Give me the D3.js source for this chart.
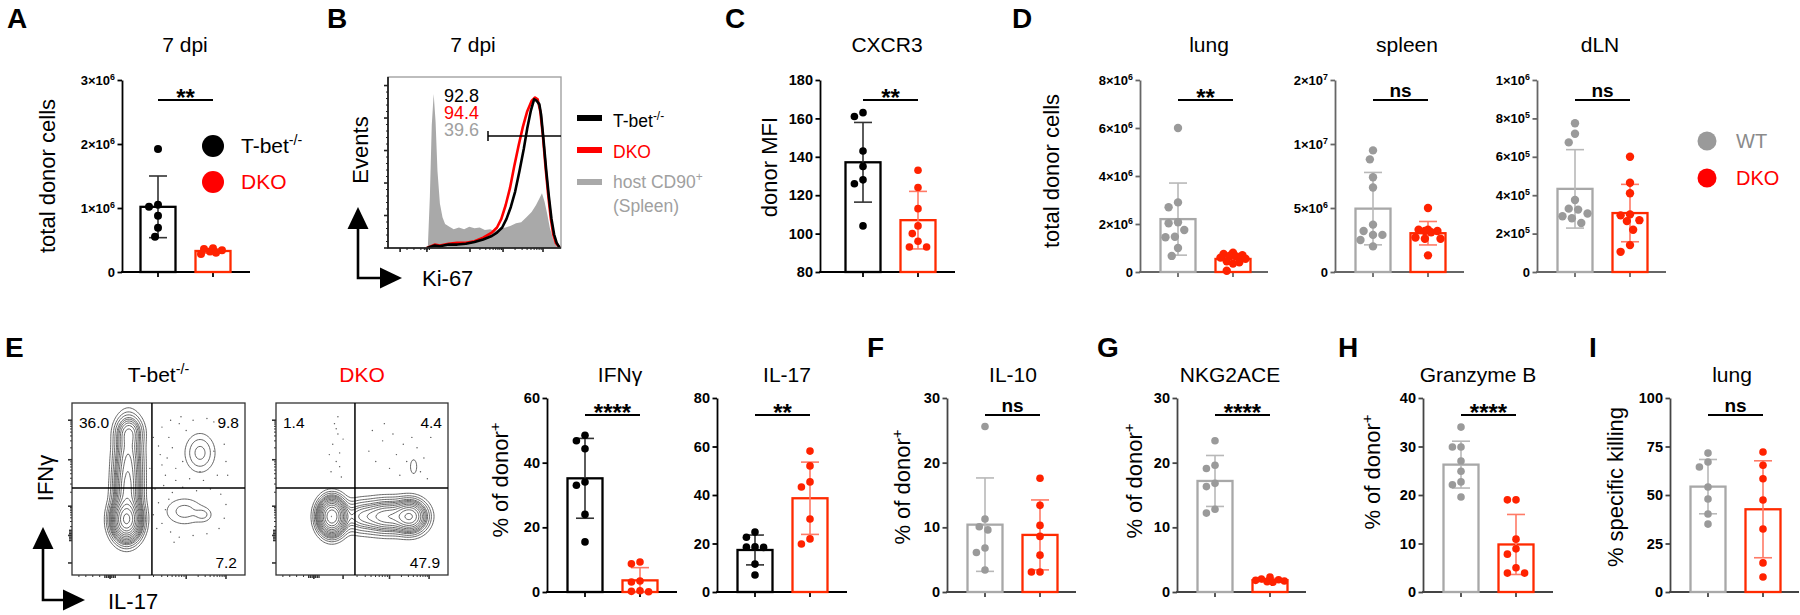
<!DOCTYPE html>
<html>
<head>
<meta charset="utf-8">
<script src="https://cdn.jsdelivr.net/npm/d3@7"></script>
<style>
body { margin: 0; background: #fff; }
svg { display: block; }
</style>
</head>
<body>
<svg id="fig" width="1800" height="615"></svg>
<script>
// ---------------- data ----------------
// A - total donor cells, 7 dpi
var aTbet = [1.92e6, 1.05e6, 1.02e6, 0.88e6, 0.69e6, 0.55e6];
var aDko = [0.37e6, 0.36e6, 0.34e6, 0.32e6, 0.30e6, 0.28e6];
var aTicks = [0, 1e6, 2e6, 3e6];
var aTickLabels = ["0", "1×10^6", "2×10^6", "3×10^6"];

// B - Ki-67 histograms, [channel %, events % of max]
var kiHost = [[23, 0], [24.2, 30], [25.3, 72], [26.4, 90], [27.5, 74], [28.6, 45], [30, 26], [31.5, 18], [33, 14], [35.5, 12.5], [38, 11], [41, 12], [44, 11], [47, 12.5], [50, 11.5], [53, 12], [56, 10.5], [59, 11], [62, 10], [65, 11.5], [68, 12], [71, 13], [74, 14.5], [77, 15], [80, 18], [83, 21], [85.5, 25], [87.5, 29], [89, 32], [90.5, 27], [92, 20], [93.5, 12], [95.5, 5], [97.5, 1], [98.5, 0]];
var kiTbet = [[22.5, 0], [27, 1.5], [30, 1], [35, 2], [40, 2], [45, 2.5], [50, 3.5], [55, 5], [60, 7], [63, 9], [66, 12], [68.5, 17], [71, 24], [73.5, 33], [76, 45], [78.5, 58], [80.5, 70], [82.5, 80], [84.5, 87], [86, 86], [87.5, 84], [88.5, 78], [90, 62], [91.5, 45], [93, 30], [94.5, 17], [96, 8], [97.5, 3], [99, 0.5], [100, 0]];
var kiDko = [[22.5, 0], [27, 2], [30, 1.5], [35, 2.5], [40, 3], [45, 3], [50, 4], [55, 6], [60, 9], [63, 12], [65.5, 17], [68, 25], [70.5, 35], [73, 48], [75.5, 60], [78, 71], [80.5, 80], [83, 86], [85, 88], [86.5, 87], [88, 80], [89.5, 66], [91, 48], [92.5, 32], [94, 18], [95.5, 8], [97, 3], [99, 0.5], [100, 0]];
var kiGates = ["92.8", "94.4", "39.6"];
var kiGateRange = [57.8, 100];
var kiGateLevel = 65.5;
var kiMajorY = [0, 19, 38, 57, 76, 95];
var kiMajorX = [7, 22.5, 47.4, 66.5, 89.6];

// C - CXCR3 donor MFI
var cTbet = [163, 161, 143, 135, 128, 126, 104];
var cDko = [133, 124, 113, 104, 100, 96, 93, 93];
var cTicks = [80, 100, 120, 140, 160, 180];

// D - total donor cells per organ
var lungWT = [6.0e6, 2.9e6, 2.7e6, 2.07e6, 2.03e6, 1.75e6, 1.47e6, 1.45e6, 1.0e6, 0.67e6];
var lungDKO = [0.8e6, 0.75e6, 0.7e6, 0.68e6, 0.65e6, 0.6e6, 0.55e6, 0.45e6, 0.4e6, 0.35e6, 0.05e6];
var lungTicks = [0, 2e6, 4e6, 6e6, 8e6];
var lungTickLabels = ["0", "2×10^6", "4×10^6", "6×10^6", "8×10^6"];
var spleenWT = [9.5e6, 8.8e6, 7.4e6, 6.6e6, 3.7e6, 3.2e6, 2.9e6, 2.9e6, 2.5e6, 2.0e6];
var spleenDKO = [5.0e6, 3.3e6, 3.3e6, 3.2e6, 3.2e6, 3.1e6, 2.7e6, 2.6e6, 2.6e6, 1.3e6];
var spleenTicks = [0, 5e6, 1e7, 1.5e7];
var spleenTickLabels = ["0", "5×10^6", "1×10^7", "2×10^7"];
var dlnWT = [7.75e5, 7.2e5, 6.75e5, 3.75e5, 3.3e5, 3.25e5, 3.05e5, 2.9e5, 2.8e5, 2.55e5];
var dlnDKO = [6.0e5, 4.65e5, 4.1e5, 3.0e5, 2.95e5, 2.7e5, 2.65e5, 2.2e5, 1.4e5, 1.05e5];
var dlnTicks = [0, 2e5, 4e5, 6e5, 8e5, 1e6];
var dlnTickLabels = ["0", "2×10^5", "4×10^5", "6×10^5", "8×10^5", "1×10^6"];

// E - flow plots: populations [IL-17, IFNg, sdX, sdY, weight]
var tbetPops = [[31.5, 32, 4.2, 6, 1.0], [32, 48, 4, 10, 0.35], [32.5, 68, 4, 11, 0.25], [33, 83, 4, 5, 0.15], [74, 71, 5, 6.5, 0.045], [65, 37, 7, 5, 0.028], [76, 35, 3, 2.5, 0.022]];
var dkoPops = [[32.5, 34, 4, 5.3, 1.0], [50, 34, 7, 5, 0.12], [65, 34, 7, 5, 0.25], [78, 34, 5, 4.8, 0.45], [80, 63, 2, 4.5, 0.015]];
var tbetEvents = [[52, 86], [56, 80], [58, 74], [55, 68], [60, 62], [54, 58], [62, 88], [66, 84], [70, 90], [78, 91], [86, 86], [88, 76], [89, 66], [84, 58], [76, 55], [68, 56], [60, 55], [52, 64], [57, 90], [64, 66], [50, 75], [53, 52], [58, 48], [56, 44], [54, 38], [52, 30], [57, 25], [62, 22], [70, 23], [78, 24], [85, 27], [88, 33], [89, 41], [86, 47], [80, 50], [72, 49], [64, 51], [48, 50], [50, 42], [49, 27], [74, 60], [82, 72], [47, 80], [45, 62], [51, 70], [63, 92], [82, 89], [90, 58], [47, 35], [59, 19]];
var dkoEvents = [[34, 88], [36, 82], [33, 76], [37, 71], [35, 66], [32, 60], [38, 57], [36, 92], [31, 70], [39, 79], [56, 84], [62, 78], [68, 82], [74, 76], [82, 74], [86, 68], [79, 80], [58, 66], [66, 62], [72, 58], [84, 60], [90, 80], [54, 72], [76, 66], [88, 56], [63, 88], [70, 70], [35, 85], [37, 63]];
var tbetGate = [46.2, 50.6];
var dkoGate = [45.9, 50.6];
var tbetQuad = ["36.0", "9.8", "7.2"];
var dkoQuad = ["1.4", "4.4", "47.9"];
var flowMajorY = [7, 23, 40, 67, 90];
var flowMajorX = [22, 39, 66, 89];

// E - cytokine bars
var ifngTbet = [48.5, 46.8, 44.3, 34, 33, 24, 15.5];
var ifngDko = [9.3, 8.7, 3.4, 3.1, 0.4, 0.2, 0.1];
var il17Tbet = [24.7, 22.6, 18.6, 18.5, 18.4, 11.5, 7.0];
var il17Dko = [58.1, 52, 45.4, 43.3, 30.1, 21.9, 19.8];
// F - IL-10
var il10WT = [25.6, 11.3, 10.1, 9.6, 6.8, 6.1, 3.4];
var il10DKO = [17.6, 13.4, 10.3, 8.6, 5.7, 3.1, 3.1];
// G - NKG2ACE
var nkgWT = [23.4, 19.6, 19.1, 16.8, 16.3, 12.8, 12.2];
var nkgDKO = [2.3, 2.0, 1.9, 1.8, 1.7, 1.6, 1.5];
// H - Granzyme B
var gzmbWT = [34, 29.9, 29.9, 27, 24.9, 22.7, 22.1, 19.6];
var gzmbDKO = [19, 19, 10.9, 8.9, 7.8, 5, 3.9, 3.9];
// I - lung specific killing
var killWT = [71.6, 67, 64.4, 54.1, 47.9, 40.2, 35];
var killDKO = [72.2, 65.3, 58.4, 47.4, 32.5, 15, 7.7];

// ---------------- helpers ----------------
var FONT = '"Liberation Sans", Arial, Helvetica, sans-serif';
var RED = "#ff2200", RED_T = "#ff0000";
var svg = d3.select("#fig").attr("font-family", FONT);

var BLACK_G = { dot: "#000", bar: "#000", err: "#333" };
var RED_G = { dot: RED, bar: "#ff2a00", err: "#ff7a66" };
var GRAY_G = { dot: "#9a9a9a", bar: "#a8a8a8", err: "#b8b8b8" };

function rich(t, str) {
  var parts = String(str).split("^");
  t.text(parts[0]);
  if (parts.length > 1) t.append("tspan").attr("dy", "-0.55em").attr("font-size", "68%").text(parts[1]);
  return t;
}

function text(x, y, str, size, opts) {
  opts = opts || {};
  var t = svg.append("text").attr("x", x).attr("y", y).attr("font-size", size)
    .attr("fill", opts.fill || "#000").attr("text-anchor", opts.anchor || "start")
    .attr("font-weight", opts.bold ? "bold" : "normal");
  return rich(t, str);
}

function vtext(x, y, str, size) {
  var t = svg.append("text").attr("transform", "translate(" + x + "," + y + ") rotate(-90)")
    .attr("font-size", size).attr("text-anchor", "middle");
  return rich(t, str);
}

function panelLetter(x, y, s) {
  svg.append("text").attr("x", x).attr("y", y).attr("font-size", 28).attr("font-weight", "bold").text(s);
}

function swarm(vals, y, r, maxOff) {
  var s = 2 * r + 1, placed = [], out = new Array(vals.length);
  var order = d3.range(vals.length).sort(function (a, b) { return vals[b] - vals[a]; });
  var cands = [0];
  for (var k = 1; k * s / 3 <= maxOff; k++) cands.push(-k * s / 3, k * s / 3);
  order.forEach(function (i) {
    var py = y(vals[i]), best = 0, bestD = -1;
    for (var c = 0; c < cands.length; c++) {
      var md = Infinity;
      placed.forEach(function (p) { var a = p[0] - cands[c], b = p[1] - py; md = Math.min(md, Math.sqrt(a * a + b * b)); });
      if (md >= s) { best = cands[c]; bestD = md; break; }
      if (md > bestD) { bestD = md; best = cands[c]; }
    }
    placed.push([best, py]);
    out[i] = [best, py];
  });
  return out;
}

function barPanel(p) {
  var g = svg.append("g");
  var y = d3.scaleLinear().domain(p.domain).range([p.yBot, p.yTop]);
  var inset = p.inset == null ? 20.5 : p.inset;
  var x = d3.scaleBand().domain(p.groups.map(function (d) { return d.name; }))
    .range([p.x0 + inset, p.x0 + inset + 90]).paddingInner(20 / 55);
  var bw = x.bandwidth();

  var ya = g.append("g").attr("transform", "translate(" + p.x0 + ",0)")
    .call(d3.axisLeft(y).tickValues(p.ticks).tickSize(4.5).tickSizeOuter(0).tickPadding(2.5)
      .tickFormat(function (d, i) { return p.tickLabels ? p.tickLabels[i] : d; }));
  ya.attr("font-family", FONT).attr("font-size", p.tickFont || 14.5).attr("font-weight", "bold");
  ya.selectAll("text").attr("fill", "#000").each(function () { var s = d3.select(this); rich(s, s.text()); });
  ya.selectAll("line,path").attr("stroke", p.axisColor).attr("stroke-width", 1.8);

  var xa = g.append("g").attr("transform", "translate(0," + p.yBot + ")")
    .call(d3.axisBottom(x).tickSize(5).tickSizeOuter(0).tickFormat(""));
  xa.select(".domain").remove();
  xa.selectAll("line").attr("stroke", p.axisColor).attr("stroke-width", 1.8);
  g.append("line").attr("x1", p.x0 - 0.9).attr("x2", p.x1).attr("y1", p.yBot).attr("y2", p.yBot)
    .attr("stroke", p.axisColor).attr("stroke-width", 1.8);

  p.groups.forEach(function (gr) {
    var m = d3.mean(gr.vals), sd = d3.deviation(gr.vals);
    var bx = x(gr.name), cx = bx + bw / 2;
    g.append("rect").attr("x", bx).attr("y", y(m)).attr("width", bw).attr("height", p.yBot - y(m))
      .attr("fill", "none").attr("stroke", gr.style.bar).attr("stroke-width", 2.3);
    var lo = Math.max(p.domain[0], m - sd), hi = m + sd;
    var eg = g.append("g").attr("stroke", gr.style.err).attr("stroke-width", 1.6);
    eg.append("line").attr("x1", cx).attr("x2", cx).attr("y1", y(lo)).attr("y2", y(hi));
    [lo, hi].forEach(function (v) {
      eg.append("line").attr("x1", cx - 9).attr("x2", cx + 9).attr("y1", y(v)).attr("y2", y(v));
    });
    var r = p.r || 3.8;
    var pos = swarm(gr.vals, y, r, bw / 2 - r + 1);
    g.selectAll(null).data(pos).enter().append("circle")
      .attr("cx", function (d) { return cx + d[0]; }).attr("cy", function (d) { return d[1]; })
      .attr("r", r).attr("fill", gr.style.dot);
  });

  text(p.titleX, p.titleY, p.title, 21, { anchor: "middle" });
  var c1 = x(p.groups[0].name) + bw / 2, c2 = x(p.groups[1].name) + bw / 2;
  g.append("line").attr("x1", c1).attr("x2", c2).attr("y1", p.sigY).attr("y2", p.sigY)
    .attr("stroke", "#000").attr("stroke-width", 1.8);
  if (p.sig === "ns") text((c1 + c2) / 2, p.sigY - 3.5, "ns", 19, { anchor: "middle", bold: true });
  else text((c1 + c2) / 2, p.sigY + 5.5, p.sig, 24, { anchor: "middle", bold: true });
  if (p.ylabel) vtext(p.ylx, p.yly, p.ylabel, 22);
}

function logTicks(majors) {
  var minors = [];
  for (var i = 1; i < majors.length; i++) {
    var a = majors[i - 1], b = majors[i];
    for (var k = 2; k <= 9; k++) minors.push(a + (b - a) * Math.log10(k));
  }
  return minors;
}

function flowPlot(p) {
  var g = svg.append("g");
  var x = d3.scaleLinear().domain([0, 100]).range([p.x0, p.x1]);
  var y = d3.scaleLinear().domain([0, 100]).range([p.y1, p.y0]);
  var n = 110, vals = new Float64Array(n * n);
  for (var j = 0; j < n; j++) for (var i = 0; i < n; i++) {
    var vx = (i + 0.5) * 100 / n, vy = (j + 0.5) * 100 / n, s = 0;
    p.pops.forEach(function (q) {
      var a = (vx - q[0]) / q[2], b = (vy - q[1]) / q[3];
      s += q[4] * Math.exp(-0.5 * (a * a + b * b));
    });
    vals[i + j * n] = s;
  }
  var levels = [0.01, 0.022, 0.038].concat(d3.range(12).map(function (k) { return 0.06 * Math.pow(1 / 0.06, k / 11); }));
  var cont = d3.contours().size([n, n]).thresholds(levels)(vals);
  var proj = d3.geoTransform({ point: function (px, py) { this.stream.point(x(px * 100 / n), y(py * 100 / n)); } });
  var path = d3.geoPath(proj);
  g.selectAll(null).data(cont).enter().append("path").attr("d", path)
    .attr("fill", "none").attr("stroke", "#4a4a4a").attr("stroke-width", 0.85);
  g.selectAll(null).data(p.events).enter().append("circle")
    .attr("cx", function (d) { return x(d[0]); }).attr("cy", function (d) { return y(d[1]); })
    .attr("r", 0.7).attr("fill", "#555");
  g.append("rect").attr("x", p.x0).attr("y", p.y0).attr("width", p.x1 - p.x0).attr("height", p.y1 - p.y0)
    .attr("fill", "none").attr("stroke", "#333").attr("stroke-width", 1.3);
  g.append("line").attr("x1", x(p.gate[0])).attr("x2", x(p.gate[0])).attr("y1", p.y0).attr("y2", p.y1).attr("stroke", "#000").attr("stroke-width", 1.5);
  g.append("line").attr("x1", p.x0).attr("x2", p.x1).attr("y1", y(p.gate[1])).attr("y2", y(p.gate[1])).attr("stroke", "#000").attr("stroke-width", 1.5);
  // ticks
  var tk = g.append("g").attr("stroke", "#333").attr("stroke-width", 1);
  flowMajorY.forEach(function (v) { tk.append("line").attr("x1", p.x0).attr("x2", p.x0 - 4).attr("y1", y(v)).attr("y2", y(v)).attr("stroke-width", 1.6); });
  logTicks(flowMajorY.slice(1)).forEach(function (v) { tk.append("line").attr("x1", p.x0).attr("x2", p.x0 - 2).attr("y1", y(v)).attr("y2", y(v)); });
  [20, 21, 22, 23, 24, 25, 26].forEach(function (v) { tk.append("line").attr("x1", p.x0).attr("x2", p.x0 - 3).attr("y1", y(v)).attr("y2", y(v)).attr("stroke-width", 1.4); });
  flowMajorX.forEach(function (v) { tk.append("line").attr("y1", p.y1).attr("y2", p.y1 + 4).attr("x1", x(v)).attr("x2", x(v)).attr("stroke-width", 1.6); });
  logTicks(flowMajorX.slice(1)).concat([4, 8, 12, 16]).forEach(function (v) { tk.append("line").attr("y1", p.y1).attr("y2", p.y1 + 2).attr("x1", x(v)).attr("x2", x(v)); });
  [19, 20, 21, 22, 23, 24, 25].forEach(function (v) { tk.append("line").attr("y1", p.y1).attr("y2", p.y1 + 3).attr("x1", x(v)).attr("x2", x(v)).attr("stroke-width", 1.4); });
  // quadrant frequencies
  text(p.x0 + 7, p.y0 + 25, p.quad[0], 15.5);
  text(p.x1 - 6, p.y0 + 25, p.quad[1], 15.5, { anchor: "end" });
  text(p.x1 - 8, p.y1 - 7, p.quad[2], 15.5, { anchor: "end" });
  text((p.x0 + p.x1) / 2, 382, p.title, 21, { anchor: "middle", fill: p.titleFill });
}

function arrowAxes(vx, tipY, cornerY, endX) {
  var g = svg.append("g");
  g.append("path").attr("d", "M" + vx + "," + (tipY + 12) + "V" + cornerY + "H" + (endX - 20))
    .attr("fill", "none").attr("stroke", "#000").attr("stroke-width", 2.6);
  g.append("path").attr("d", "M" + vx + "," + tipY + "L" + (vx - 10.5) + "," + (tipY + 22) + "L" + (vx + 10.5) + "," + (tipY + 22) + "Z");
  g.append("path").attr("d", "M" + endX + "," + cornerY + "L" + (endX - 22) + "," + (cornerY - 10.5) + "L" + (endX - 22) + "," + (cornerY + 10.5) + "Z");
}

// ---------------- panel letters ----------------
panelLetter(7, 28, "A"); panelLetter(327, 28, "B"); panelLetter(725, 28, "C"); panelLetter(1012, 28, "D");
panelLetter(5, 357, "E"); panelLetter(867, 357, "F"); panelLetter(1097, 357, "G"); panelLetter(1338, 357, "H"); panelLetter(1589, 357, "I");

// ---------------- A ----------------
barPanel({ x0: 122, x1: 250, yTop: 80, yBot: 272, inset: 18.5, domain: [0, 3e6], ticks: aTicks, tickLabels: aTickLabels, tickFont: 13,
  axisColor: "#000", r: 4, title: "7 dpi", titleX: 185, titleY: 52, sig: "**", sigY: 100,
  ylabel: "total donor cells", ylx: 55, yly: 176,
  groups: [{ name: "T-bet", vals: aTbet, style: BLACK_G }, { name: "DKO", vals: aDko, style: RED_G }] });
svg.append("circle").attr("cx", 213).attr("cy", 146).attr("r", 11).attr("fill", "#000");
svg.append("circle").attr("cx", 213).attr("cy", 182).attr("r", 11).attr("fill", RED_T);
text(241, 153, "T-bet^-/-", 21);
text(241, 189, "DKO", 21, { fill: RED_T });

// ---------------- B ----------------
(function () {
  var x0 = 388, x1 = 561, y0 = 77, y1 = 248;
  var x = d3.scaleLinear().domain([0, 100]).range([x0, x1]);
  var y = d3.scaleLinear().domain([0, 100]).range([y1, y0]);
  var g = svg.append("g");
  g.append("clipPath").attr("id", "clipB").append("rect").attr("x", x0).attr("y", y0).attr("width", x1 - x0).attr("height", y1 - y0);
  var area = d3.area().x(function (d) { return x(d[0]); }).y0(y1).y1(function (d) { return y(d[1]); });
  var line = d3.line().x(function (d) { return x(d[0]); }).y(function (d) { return y(d[1]); });
  var hg = g.append("g").attr("clip-path", "url(#clipB)");
  hg.append("path").datum(kiHost).attr("d", area).attr("fill", "#a9a9a9");
  hg.append("path").datum(kiDko).attr("d", line).attr("fill", "none").attr("stroke", RED_T).attr("stroke-width", 2.6).attr("stroke-linejoin", "round");
  hg.append("path").datum(kiTbet).attr("d", line).attr("fill", "none").attr("stroke", "#000").attr("stroke-width", 2.6).attr("stroke-linejoin", "round");
  g.append("rect").attr("x", x0).attr("y", y0).attr("width", x1 - x0).attr("height", y1 - y0)
    .attr("fill", "none").attr("stroke", "#9a9a9a").attr("stroke-width", 1.3);
  g.append("path").attr("d", "M" + x0 + "," + y0 + "V" + y1 + "H" + x1).attr("fill", "none").attr("stroke", "#111").attr("stroke-width", 1.6);
  var tk = g.append("g").attr("stroke", "#222").attr("stroke-width", 1);
  kiMajorY.forEach(function (v) { tk.append("line").attr("x1", x0).attr("x2", x0 - 4).attr("y1", y(v)).attr("y2", y(v)).attr("stroke-width", 1.6); });
  kiMajorY.slice(1).forEach(function (v, i) {
    d3.range(1, 5).forEach(function (k) {
      var vv = kiMajorY[i] + (v - kiMajorY[i]) * k / 5;
      tk.append("line").attr("x1", x0).attr("x2", x0 - 2).attr("y1", y(vv)).attr("y2", y(vv));
    });
  });
  kiMajorX.forEach(function (v) { tk.append("line").attr("y1", y1).attr("y2", y1 + 4).attr("x1", x(v)).attr("x2", x(v)).attr("stroke-width", 1.6); });
  logTicks(kiMajorX.slice(2)).concat([11, 15, 19, 21, 22, 23, 24]).forEach(function (v) { tk.append("line").attr("y1", y1).attr("y2", y1 + 2).attr("x1", x(v)).attr("x2", x(v)); });
  // gate
  var gy = y(kiGateLevel);
  g.append("line").attr("x1", x(kiGateRange[0])).attr("x2", x(kiGateRange[1])).attr("y1", gy).attr("y2", gy).attr("stroke", "#000").attr("stroke-width", 1.5);
  g.append("line").attr("x1", x(kiGateRange[0])).attr("x2", x(kiGateRange[0])).attr("y1", gy - 5).attr("y2", gy + 5).attr("stroke", "#000").attr("stroke-width", 1.5);
  text(444, 102, kiGates[0], 18);
  text(444, 119, kiGates[1], 18, { fill: RED_T });
  text(444, 136, kiGates[2], 18, { fill: "#a0a0a0" });
  // legend
  [["#000", 118], [RED_T, 150], ["#a9a9a9", 182]].forEach(function (d) {
    g.append("line").attr("x1", 577).attr("x2", 602).attr("y1", d[1]).attr("y2", d[1]).attr("stroke", d[0]).attr("stroke-width", 6);
  });
  text(613, 127, "T-bet^-/-", 17.5);
  text(613, 158, "DKO", 17.5, { fill: RED_T });
  text(613, 188, "host CD90^+", 17.5, { fill: "#a0a0a0" });
  text(613, 212, "(Spleen)", 17.5, { fill: "#a0a0a0" });
  text(473, 52, "7 dpi", 21, { anchor: "middle" });
  vtext(368, 150, "Events", 22);
  arrowAxes(358, 207, 278, 402);
  text(422, 286, "Ki-67", 22);
})();

// ---------------- C ----------------
barPanel({ x0: 820, x1: 955, yTop: 80, yBot: 272, inset: 25.5, domain: [80, 180], ticks: cTicks,
  axisColor: "#000", r: 3.8, title: "CXCR3", titleX: 887, titleY: 52, sig: "**", sigY: 100,
  ylabel: "donor MFI", ylx: 777, yly: 167,
  groups: [{ name: "T-bet", vals: cTbet, style: BLACK_G }, { name: "DKO", vals: cDko, style: RED_G }] });

// ---------------- D ----------------
barPanel({ x0: 1140, x1: 1268, yTop: 80, yBot: 272, domain: [0, 8e6], ticks: lungTicks, tickLabels: lungTickLabels, tickFont: 13,
  axisColor: "#666", r: 4.2, title: "lung", titleX: 1209, titleY: 52, sig: "**", sigY: 100,
  ylabel: "total donor cells", ylx: 1059, yly: 171,
  groups: [{ name: "WT", vals: lungWT, style: GRAY_G }, { name: "DKO", vals: lungDKO, style: RED_G }] });
barPanel({ x0: 1335, x1: 1464, yTop: 80, yBot: 272, domain: [0, 1.5e7], ticks: spleenTicks, tickLabels: spleenTickLabels, tickFont: 13,
  axisColor: "#666", r: 4.2, title: "spleen", titleX: 1407, titleY: 52, sig: "ns", sigY: 100,
  groups: [{ name: "WT", vals: spleenWT, style: GRAY_G }, { name: "DKO", vals: spleenDKO, style: RED_G }] });
barPanel({ x0: 1537, x1: 1666, yTop: 80, yBot: 272, domain: [0, 1e6], ticks: dlnTicks, tickLabels: dlnTickLabels, tickFont: 13,
  axisColor: "#666", r: 4.2, title: "dLN", titleX: 1600, titleY: 52, sig: "ns", sigY: 100,
  groups: [{ name: "WT", vals: dlnWT, style: GRAY_G }, { name: "DKO", vals: dlnDKO, style: RED_G }] });
svg.append("circle").attr("cx", 1707).attr("cy", 141).attr("r", 9.5).attr("fill", "#9a9a9a");
svg.append("circle").attr("cx", 1707).attr("cy", 178).attr("r", 9.5).attr("fill", RED_T);
text(1736, 148, "WT", 20, { fill: "#8a8a8a" });
text(1736, 185, "DKO", 20, { fill: RED_T });

// ---------------- E flow ----------------
flowPlot({ x0: 72, x1: 245, y0: 403, y1: 575, pops: tbetPops, events: tbetEvents, gate: tbetGate, quad: tbetQuad, title: "T-bet^-/-", titleFill: "#000" });
flowPlot({ x0: 276, x1: 448, y0: 403, y1: 575, pops: dkoPops, events: dkoEvents, gate: dkoGate, quad: dkoQuad, title: "DKO", titleFill: RED_T });
vtext(53, 478, "IFNγ", 22);
arrowAxes(43, 527, 600, 85);
text(108, 609, "IL-17", 22);

// ---------------- E bars ----------------
barPanel({ x0: 547, x1: 677, yTop: 398, yBot: 592, domain: [0, 60], ticks: [0, 20, 40, 60],
  axisColor: "#000", title: "IFNγ", titleX: 620, titleY: 382, sig: "****", sigY: 415,
  ylabel: "% of donor^+", ylx: 508, yly: 480,
  groups: [{ name: "T-bet", vals: ifngTbet, style: BLACK_G }, { name: "DKO", vals: ifngDko, style: RED_G }] });
barPanel({ x0: 717, x1: 847, yTop: 398, yBot: 592, domain: [0, 80], ticks: [0, 20, 40, 60, 80],
  axisColor: "#000", title: "IL-17", titleX: 787, titleY: 382, sig: "**", sigY: 415,
  groups: [{ name: "T-bet", vals: il17Tbet, style: BLACK_G }, { name: "DKO", vals: il17Dko, style: RED_G }] });

// ---------------- F - I ----------------
barPanel({ x0: 947, x1: 1076, yTop: 398, yBot: 592, domain: [0, 30], ticks: [0, 10, 20, 30],
  axisColor: "#444", title: "IL-10", titleX: 1013, titleY: 382, sig: "ns", sigY: 415,
  ylabel: "% of donor^+", ylx: 910, yly: 487,
  groups: [{ name: "WT", vals: il10WT, style: GRAY_G }, { name: "DKO", vals: il10DKO, style: RED_G }] });
barPanel({ x0: 1177, x1: 1306, yTop: 398, yBot: 592, domain: [0, 30], ticks: [0, 10, 20, 30],
  axisColor: "#444", title: "NKG2ACE", titleX: 1230, titleY: 382, sig: "****", sigY: 415,
  ylabel: "% of donor^+", ylx: 1142, yly: 481,
  groups: [{ name: "WT", vals: nkgWT, style: GRAY_G }, { name: "DKO", vals: nkgDKO, style: RED_G }] });
barPanel({ x0: 1423, x1: 1553, yTop: 398, yBot: 592, domain: [0, 40], ticks: [0, 10, 20, 30, 40],
  axisColor: "#444", title: "Granzyme B", titleX: 1478, titleY: 382, sig: "****", sigY: 415,
  ylabel: "% of donor^+", ylx: 1380, yly: 472,
  groups: [{ name: "WT", vals: gzmbWT, style: GRAY_G }, { name: "DKO", vals: gzmbDKO, style: RED_G }] });
barPanel({ x0: 1670, x1: 1799, yTop: 398, yBot: 592, domain: [0, 100], ticks: [0, 25, 50, 75, 100],
  axisColor: "#444", title: "lung", titleX: 1732, titleY: 382, sig: "ns", sigY: 415,
  ylabel: "% specific killing", ylx: 1623, yly: 487,
  groups: [{ name: "WT", vals: killWT, style: GRAY_G }, { name: "DKO", vals: killDKO, style: RED_G }] });
</script>
</body>
</html>
